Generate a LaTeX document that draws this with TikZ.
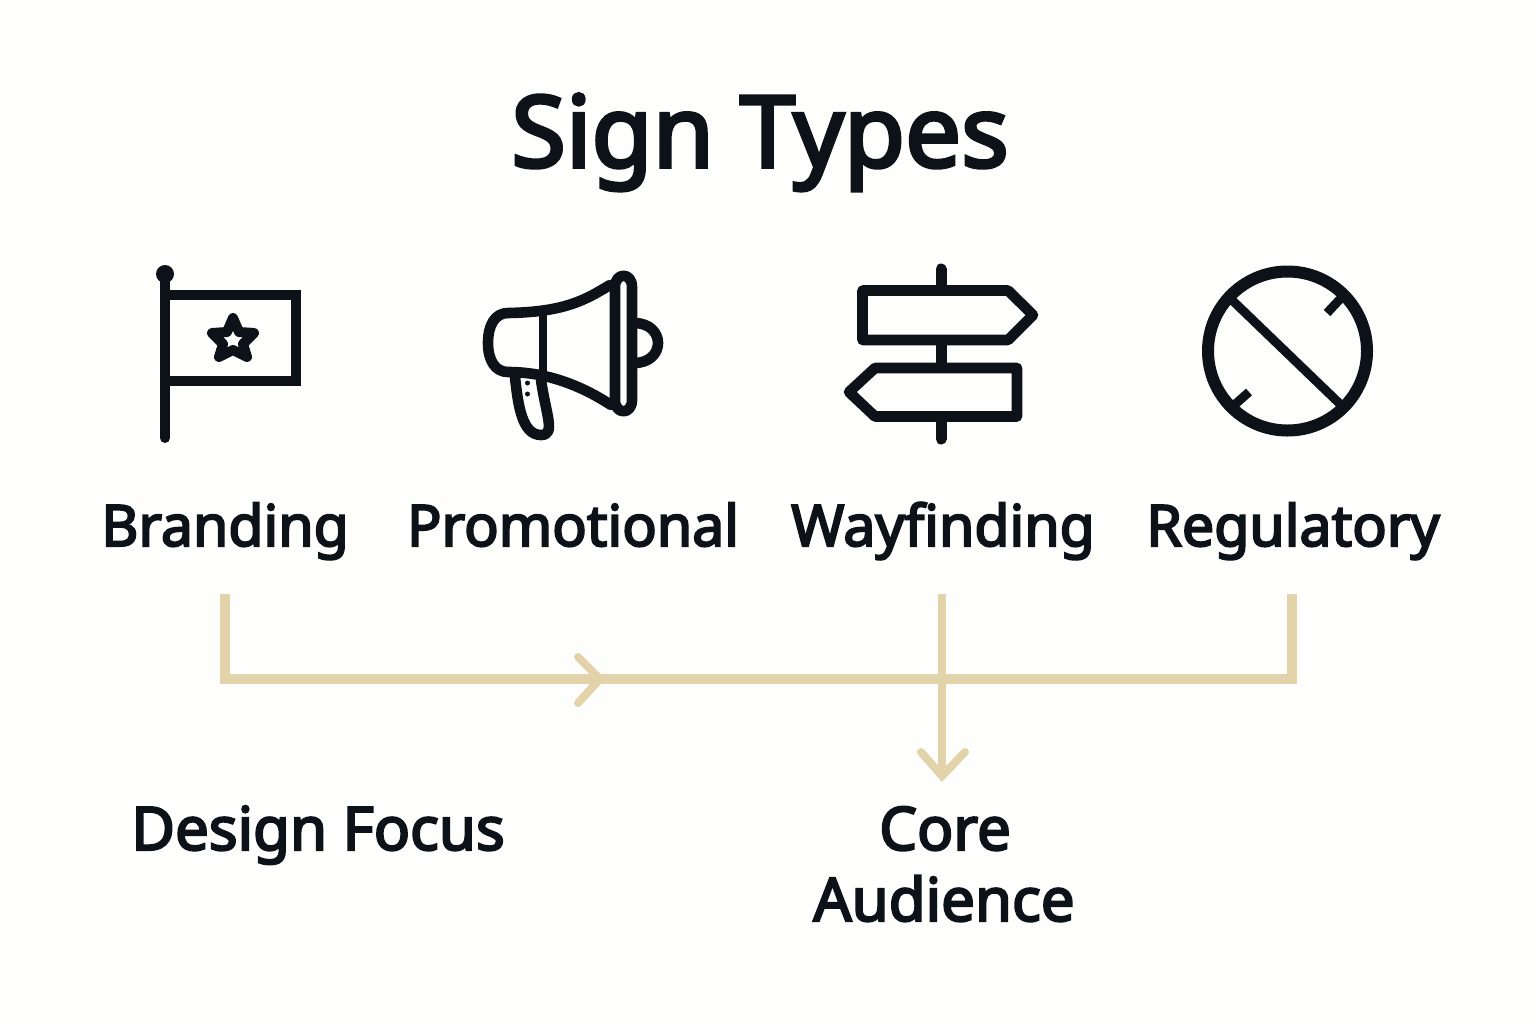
\documentclass[tikz,border=0pt]{standalone}
\usepackage{fontspec}
\setmainfont[FakeBold=3.5]{Noto Sans}
\definecolor{ink}{HTML}{0D1218}
\definecolor{sand}{HTML}{E3D3AB}
\definecolor{paper}{HTML}{FEFEFD}
\tikzset{
  title/.style={anchor=base,text=ink,font=\fontsize{49.7}{49.7}\selectfont},
  label/.style={anchor=base,text=ink,font=\fontsize{28.6}{28.6}\selectfont},
  lowlabel/.style={anchor=base,text=ink,font=\fontsize{30}{30}\selectfont},
  icon/.style={draw=ink,line width=5.3pt,line join=round,line cap=round},
  conn/.style={draw=sand,line width=4.8pt},
  tipline/.style={draw=sand,line width=4pt,line cap=round,line join=miter},
}
\begin{document}
\begin{tikzpicture}[x=0.5pt,y=-0.5pt]
  \fill[paper] (0,0) rectangle (1536,1024);
  \useasboundingbox (0,0) rectangle (1536,1024);
  \node[title] (signtypes) at (760,167) {Sign Types};
  \node[label] (branding) at (225,546) {Branding};
  \node[label] (promotional) at (573,546) {Promotional};
  \node[label] (wayfinding) at (943,546) {Wayfinding};
  \node[label] (regulatory) at (1293,546) {Regulatory};
  \node[lowlabel] (designfocus) at (318,850) {Design Focus};
  \node[lowlabel] (core) at (945,850) {Core};
  \node[lowlabel] (audience) at (944,921) {Audience};
  % connectors
  \coordinate (brandfoot) at (225,594);
  \coordinate (wayfoot) at (942,594);
  \coordinate (regfoot) at (1292,594);
  \coordinate (brandknee) at (225,679);
  \coordinate (regknee) at (1292,679);
  \coordinate (downtip) at (942,776);
  \coordinate (righttip) at (600,679);
  \draw[conn,line join=miter] (brandfoot) -- (brandknee) -- (regknee) -- (regfoot);
  \draw[conn,line width=4pt] (wayfoot) -- (downtip);
  \draw[tipline] (578,657) -- (righttip) -- (578,703);
  \draw[tipline] (921,752) -- (downtip) -- (965,752);
  % flag
  \draw[icon,line width=5pt] (165,272) -- (165,438);
  \fill[ink] (165,274) circle (9);
  \draw[icon,line width=5pt,line join=miter] (165,295) -- (295.5,295) -- (295.5,380.5) -- (165,380.5);
  \draw[icon,line width=5pt]
    (233,318) -- (239,332) -- (254,333) -- (243,344) -- (247,357)
    -- (233,350) -- (219,357) -- (223,344) -- (212,333) -- (227,332) -- cycle;
  % megaphone
  \draw[icon]
    (610,285) .. controls (585,300) and (565,312) .. (508,313)
    .. controls (495,313) and (488,325) .. (488,343)
    .. controls (488,360) and (495,372) .. (508,372)
    .. controls (550,372) and (585,388) .. (611,405);
  \draw[icon,line width=4pt,line cap=butt] (542.5,314) -- (542.5,372);
  \draw[icon] (615,287) .. controls (615,272) and (632,272) .. (632,287)
    -- (632,400) .. controls (632,415) and (615,415) .. (615,400) -- cycle;
  \draw[icon,line cap=butt] (634,323) .. controls (666,323) and (666,363) .. (634,363);
  \draw[icon]
    (515,377) .. controls (518,405) and (522,435) .. (541,435)
    .. controls (556,435) and (546,415) .. (541,380);
  \fill[ink] (527.5,383) circle (2.5) (527.5,394) circle (2.5);
  % signpost
  \draw[icon,line width=5.5pt] (941,269) -- (941,439);
  \draw[icon,fill=paper] (862.5,290.5) -- (1008,290.5) -- (1033,315) -- (1008,340) -- (862.5,340) -- cycle;
  \draw[icon,fill=paper] (1017,368) -- (875,368) -- (849,392) -- (875,416.5) -- (1017,416.5) -- cycle;
  % prohibition
  \draw[icon,line width=6pt] (1287.5,351) circle (79.5);
  \draw[icon,line width=4.5pt,line cap=butt] (1233,301) -- (1340,404);
  \draw[icon,line width=4.5pt,line cap=butt] (1342,297) -- (1327,313);
  \draw[icon,line width=4.5pt,line cap=butt] (1232,407) -- (1249,392);
\end{tikzpicture}
\end{document}
